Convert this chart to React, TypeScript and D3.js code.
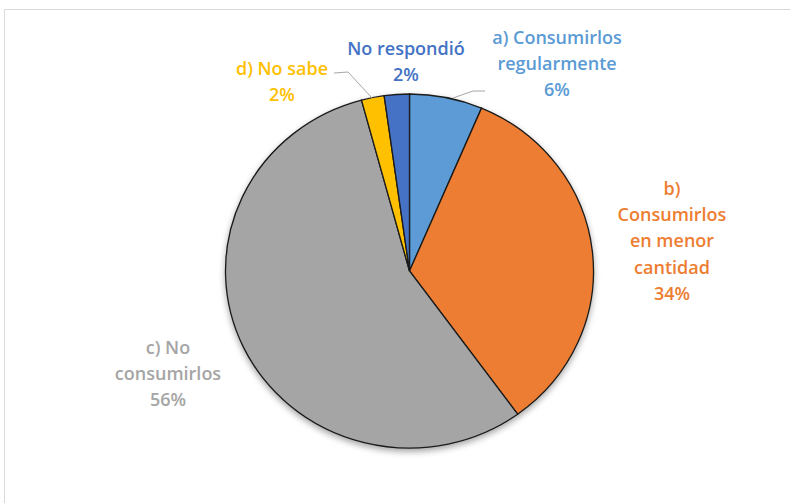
import React from "react";
import * as d3 from "d3";

const categories = [
  "a) Consumirlos regularmente",
  "b) Consumirlos en menor cantidad",
  "c) No consumirlos",
  "d) No sabe",
  "No respondió",
];
const values = [6.4, 33.6, 55.8, 2.0, 2.2];
const colors = ["#5B9BD5", "#ED7D31", "#A5A5A5", "#FFC000", "#4472C4"];
const labelLines = [
  ["a) Consumirlos", "regularmente"],
  ["b)", "Consumirlos", "en menor", "cantidad"],
  ["c) No", "consumirlos"],
  ["d) No sabe"],
  ["No respondió"],
];
const labelPos = [
  [557, 37],
  [672, 188],
  [168, 347],
  [282, 68],
  [406, 48],
];

const W = 790;
const H = 503;
const cx = 409.5;
const cy = 271;
const ry = 177;
const rx = 184;
const lineH = 26.2;

export default function App() {
  const pie = d3
    .pie<number>()
    .sort(null)
    .value((d) => d)(values);
  const arc = d3.arc<d3.PieArcDatum<number>>().innerRadius(0).outerRadius(ry);
  const pct = values.map((v) => Math.round((v / d3.sum(values)) * 100) + "%");

  return (
    <svg
      width={W}
      height={H}
      style={{ position: "absolute", left: 0, top: 0 }}
      fontFamily="'Open Sans', sans-serif"
    >
      <defs>
        <filter id="sh" x="-20%" y="-20%" width="140%" height="140%">
          <feDropShadow dx="0" dy="3" stdDeviation="3" floodColor="#000" floodOpacity="0.35" />
        </filter>
      </defs>
      <rect x={0} y={0} width={W} height={H} fill="#fff" />
      <line x1={4.5} y1={9.5} x2={W} y2={9.5} stroke="#d9d9d9" />
      <line x1={4.5} y1={9.5} x2={4.5} y2={H} stroke="#d9d9d9" />
      <g transform={`translate(${cx},${cy}) scale(${rx / ry},1)`} filter="url(#sh)">
        {pie.map((p, i) => (
          <path
            key={i}
            d={arc(p) || ""}
            fill={colors[i]}
            stroke="#1a1a1a"
            strokeWidth={1.3}
            vectorEffect="non-scaling-stroke"
          />
        ))}
      </g>
      <polyline points="453,98 473,91 485,91" fill="none" stroke="#a6a6a6" strokeWidth={1} />
      <polyline points="334,73 348,72 372,98" fill="none" stroke="#a6a6a6" strokeWidth={1} />
      {labelLines.map((lines, i) => (
        <text
          key={i}
          x={labelPos[i][0]}
          y={labelPos[i][1]}
          fill={colors[i]}
          fontSize={18}
          fontWeight={600}
          textAnchor="middle"
          dominantBaseline="central"
        >
          {[...lines, pct[i]].map((t, j) => (
            <tspan key={j} x={labelPos[i][0]} dy={j === 0 ? 0 : lineH}>
              {t}
            </tspan>
          ))}
        </text>
      ))}
    </svg>
  );
}
